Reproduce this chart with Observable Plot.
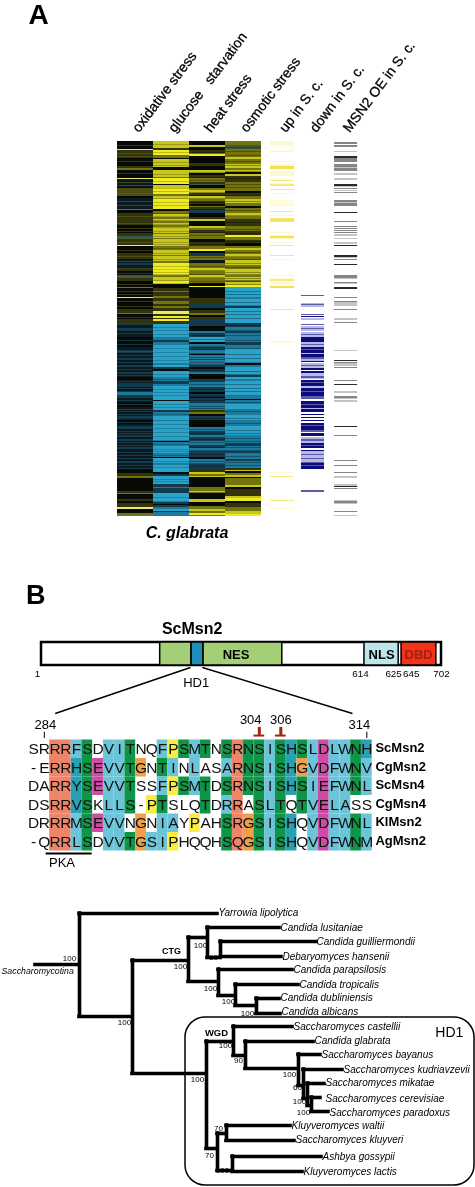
<!DOCTYPE html>
<html>
<head>
<meta charset="utf-8">
<script src="https://cdn.jsdelivr.net/npm/d3@7"></script>
<script src="https://cdn.jsdelivr.net/npm/@observablehq/plot@0.6"></script>
<style>
html,body{margin:0;padding:0;background:#fff;overflow:hidden}
svg{display:block;filter:blur(.35px)}
</style>
</head>
<body>
<div id="root" style="width:475px;height:1187px"></div>
<script>
// ---------- Panel A: expression heat map (run starts in rows, top = 0, 375 rows) ----------
const heatLabels = ["oxidative stress","glucose\u00a0\u00a0\u00a0starvation","heat stress","osmotic stress"];
const sideLabels = ["up in S. c.","down in S. c.","MSN2 OE in S. c."];
const oxidative = "0K 8L 9D 17K 25D 27O 29K 37L 38N 46K 47E 55K 57N 68O 69K 72D 78T 79D 84K 92D 95G 98D 104L 105K 112D 118N 122T 124N 128D 130K 134G 137D 140K 146O 147K 156L 157K 168D 172O 173K 178D 182T 184N 188T 190N 196K 206N 209T 212N 217T 219N 224T 226N 231T 233N 236K 239N 242T 246N 250T 251M 254T 257N 261K 266N 270T 271N 275T 278N 279K 283N 286T 288N 294T 296N 298T 300N 306T 308N 320T 322N 328K 332D 335O 337K 350D 352O 353K 358D 360K 362D 366L 368K 372O";
const glucose = "0Y 7D 9H 14O 17K 18Y 26K 29Y 36O 37H 43K 44Y 47H 53O 55Y 58H 68K 70O 73Y 76O 78Y 80O 82Y 84O 86Y 92O 93Y 97O 98Y 105O 109Y 114O 115Y 120O 122H 128Y 129H 134O 136Y 140H 143K 147D 150O 151D 155O 157D 160O 163D 165O 167D 170L 173D 175H 177D 178H 180D 183B 196M 199T 201M 204B 222M 224B 226T 228K 230B 236M 240T 243M 245B 259K 260B 269T 271M 275B 279M 280B 299M 300K 301M 305B 312M 316K 317B 322M 324B 331K 333T 335B 343T 346M 347T 352B 360M 361T 363K 364T 366M 368B 370T 371M";
const heat = "0K 4Y 6K 9D 12O 13H 15K 22D 25K 29Y 32K 34D 37O 41D 43G 44K 47O 49Y 52D 55Y 58O 60D 63K 65O 66D 69T 72K 76D 78Y 80K 85Y 87O 89D 92O 98K 101D 105O 108H 110K 112T 115O 119N 122O 127Y 130O 134Y 137O 142K 145H 146K 157D 162T 167K 169D 172O 174K 176D 179T 185K 190M 192T 196B 201K 203M 206T 209M 213K 214M 218T 219M 224T 226K 228T 231M 233K 238T 241M 246T 251K 253T 256K 257T 262M 269D 271O 273K 275T 279K 286M 290T 294M 296T 300M 304T 307M 310T 316K 318M 323T 328D 331Y 333O 335Y 336K 346O 350Y 351O 352K 358Y 361K 365O 368Y 370O 372H 374O";
const osmotic = "0O 4G 8O 16Y 18O 23Y 27O 29Y 31K 33Y 35D 41O 50K 52D 55O 58Y 62O 65K 67O 72Y 75O 78D 85O 90D 94H 96O 99D 102K 105O 107Y 109O 113Y 116O 119Y 124O 128Y 134O 136Y 139O 141Y 144H 146B 156M 158B 164M 165T 167B 182T 186M 190T 192M 201T 204M 208B 222K 224M 226B 234T 236B 238M 240B 255M 258K 259M 263B 268M 274B 279M 285B 294M 302T 305M 310T 312M 318T 320M 327D 329Y 330K 332O 334Y 336K 337O 344Y 346K 348D 355Y 357H 360K 362D 366O 370Y 373H";
const upInSc = "0a 5_ 6a 7_ 9a 11_ 20a 21_ 23a 25e 28_ 30a 35_ 39c 40_ 42a 43c 45_ 48c 49_ 52a 53_ 59a 60_ 61a 62_ 63a 65_ 70c 71_ 74a 75_ 77c 78e 80c 81_ 91a 92_ 94a 95e 97a 98_ 101a 102_ 104c 105_ 114c 115_ 118a 119_ 134a 135_ 137a 138c 140a 143_ 145e 147_ 168c 169_ 200a 202_ 331a 332_ 335c 336_ 359c 360_ 367a 368_";
const downInSc = "0_ 154m 155_ 162l 163m 164l 166_ 173m 174_ 175d 176_ 177l 179_ 183m 184_ 185l 187m 188l 190_ 191l 193m 194l 196d 201l 203m 204l 206d 208m 209d 212l 213d 216m 218l 220d 221_ 222l 224m 225l 227d 229_ 230d 232l 235m 237l 238_ 239d 241m 242d 245l 247d 250m 251d 255m 258_ 260d 263m 264d 267l 268d 271_ 273d 274_ 276d 277_ 279d 280_ 282d 284m 285d 289m 291_ 292d 295_ 296l 298m 300l 302d 304m 305d 307_ 309d 310l 313m 314l 317m 318l 321m 322d 324m 325d 328_ 349m 351_";
const msn2OE = "1q 3_ 4q 6_ 10p 11_ 15s 17q 21_ 23q 26p 27q 30_ 32p 34_ 37p 39_ 43s 45p 46_ 47q 48_ 49p 50_ 51q 52_ 59q 61p 62q 65_ 71s 72_ 80q 81_ 85q 86_ 87q 88_ 89q 90_ 91q 92_ 93p 95_ 97p 98_ 101p 103_ 104s 105_ 114s 116p 117_ 118q 119_ 123s 124_ 134q 137p 138_ 141q 142p 143_ 146s 148_ 156q 157_ 160q 161p 165_ 168q 169_ 177p 179_ 181q 182_ 209p 210_ 219s 220_ 221q 222p 225_ 226q 227_ 239q 240_ 243s 244_ 250p 252_ 255q 257p 258_ 259p 261_ 285s 286_ 294q 295_ 319q 320_ 324q 325_ 331q 332_ 335p 337_ 343p 345s 346_ 347q 348_ 359p 360q 362p 363_ 370q 371_ 374p 375_";
const levelColors = {K:"#070a06",N:"#0a1a20",T:"#123c4e",M:"#1c7a9c",B:"#2aa3cb",D:"#33330c",E:"#4e4e12",O:"#74740f",Y:"#c6c61c",H:"#eeec1e",L:"#e9e86a",G:"#3c5a42",
  a:"#fdf9d2",c:"#f8e97f",e:"#f7e050",d:"#0c0c7a",m:"#5b5ba8",l:"#b8b8e6",p:"#c4c4c4",q:"#858585",s:"#2a2a2a"};
const heatColumns = [oxidative,glucose,heat,osmotic];
const sideColumns = [[upInSc,4.25,4.92],[downInSc,5.11,5.75],[msn2OE,6.03,6.67]];
// thin rows seen inside the bands of each heat-map column
const oxidativeOlive = [4,12,15,20,32,41,44,52,60,64,75,82,87,90,101,109,115,120,127,132,143,150,153,160,165,176];
const oxidativeTeal = [187,192,199,203,210,214,221,228,234,240,247,259,263,268,273,281,285,290,292,301,304,311,314,317,324,327];
const glucoseDark = [3,11,21,24,33,40,47,50,57,61,64,72,75,79,83,86,90,95,101,103,107,112,118,125,131,133,139,142,186,189,193,207,211,215,219,233,238,248,251,254,263,266,273,283,287,291,295,303,308,310,314,320,326,338,340,356];
const heatDark = [2,7,11,18,20,31,36,39,46,51,54,57,61,68,74,83,91,94,103,111,116,121,125,129,133,136,140,194,198,205,208,212,216,221,223,229,235,243,248,255,259,265,267,277,283,288,292,298,301,306,309,313,320,322,325];
const osmoticDark = [6,10,14,20,24,30,37,43,46,54,60,69,74,81,88,92,100,103,111,115,118,122,126,131,133,137,140,143,150,153,161,170,173,177,184,189,194,199,207,213,217,221,230,233,243,247,250,254,261,270,277,282,289,292,297,300,306,309,315,321,324];

// ---------- Panel B: domain map (residue numbers) ----------
const domainNames = ["","HD1-flank","HD1","NES","NLS","DBD"];
const domainStart = [1,209,264,285,567,632];
const domainEnd = [702,264,285,423,627,693];
const domainFill = ["#ffffff","#a5cf76","#1f8fb8","#a5cf76","#bde6ec","#f2331a"];
const domainTicks = ["1","614","625","645","702"];
const domainTickAt = [-6,560,618,649,702];

// ---------- Panel B: alignment ----------
const seqNames = ["ScMsn2","CgMsn2","ScMsn4","CgMsn4","KlMsn2","AgMsn2"];
const sequences = [
  "SRRRFSDVITNQFPSMTNSRNSISHSLDLWNH",
  "-ERRHSEVVTGNTINLASARNSISHGVDFWNV",
  "DARRYSEVVTSSFPSMTDSRNSISHSIEFWNL",
  "DSRRVSKLLS-PTSLQTDRRASLTQTVELASS",
  "DRRRMSEVVNGNIAYPAHSRGSISHQVDFWNL",
  "-QRRLSDVVTGSIPHQQHSQGSISHQVDFWNM"];
const shadeRows = [
  "..rrbg.bbg..bygbg.grggbgtgbmbbgt",
  "..rrtgmbbgo.gb.b..brggbgtobmbbgb",
  "..rrtgmbbg..bygbg.grggbgtgbmbbgb",
  "..rrtg.bbg.yg...g.br.gbg.gbmbb..",
  "..rrbgmbb.o.bb.y..grogbgt.bmbbgb",
  "..rrbg.bbgobby....grogbgt.bmbbgb"];
const shadeColors = {r:"#f08468",b:"#6cc4d9",g:"#0e9648",t:"#2aa1b3",m:"#cf4ba5",o:"#f0a048",y:"#f9ee3e"};
const boldCols = [21,23,30];
const residueLabels = ["284","304","306","314"];
const residueCols = [1.6,20.7,23.5,30.8];
const residueRows = [-0.81,-1.1,-1.1,-0.81];
const arrowCols = [21.5,23.5];
const tickCols = [1.5,31.5];

// ---------- Panel B: phylogeny (depth and row units) ----------
const hBranches = [[0,44,74],[44,182,23],[44,97,126],[97,153,70],[153,172,47],[172,244,37],[172,185,67],[185,281,51],[185,246,66],[153,183,91],[183,257,79],[183,200,105],[200,263,94],[200,221,115],[221,244,108],[221,245,123],
  [97,171,183],[171,198,151],[198,257,136],[198,210,165],[210,278,151],[210,263,178],[263,285,164],[263,268,195],[268,307,179],[268,272,208],[272,289,193],[272,276,215],[276,285,207],[276,293,221],
  [171,182,258],[182,191,243],[191,255,235],[191,259,250],[182,197,280],[197,286,266],[197,267,281]];
const vBranches = [[44,23,126],[97,70,183],[153,47,91],[172,37,67],[185,51,66],[183,79,105],[200,94,115],[221,108,123],[171,151,258],[198,136,165],[210,151,178],[263,164,195],[268,179,208],[272,193,215],[276,207,221],[182,243,280],[191,235,250],[197,266,281]];
const leafNames = ["Yarrowia lipolytica","Candida lusitaniae","Candida guilliermondii","Debaryomyces hansenii","Candida parapsilosis","Candida tropicalis","Candida dubliniensis","Candida albicans","Saccharomyces castellii","Candida glabrata","Saccharomyces bayanus","Saccharomyces kudriavzevii","Saccharomyces mikatae","Saccharomyces cerevisiae","Saccharomyces paradoxus","Kluyveromyces waltii","Saccharomyces kluyveri","Ashbya gossypii","Kluyveromyces lactis"];
const leafDepth = [183,245,281,247,258,264,245,246,258,279,286,308,290,290,294,256,260,287,268];
const leafRow = [22,37,51,66,79,94,107,121,136,150,164,179,192,208,222,235,249,266,281];
const supportText = ["100","100","100","100","60","100","100","100","100","90","100","100","60","100","100","70","70","100"];
const supportDepth = [34,145,89,165,178,175,193,212,190,203,162,254,262,264,268,183,174,187];
const supportRow = [68,76,132,55,67,98,111,123,155,170,189,184,197,211,222,238,265,280];

// ---------- helpers ----------
const font = "'Liberation Sans', Arial, sans-serif";
const parseRuns = s => {
  const parts = s.trim().split(/\s+/).map(p => ({start:+p.slice(0,-1), code:p.slice(-1)}));
  return parts.map((p,i) => ({...p, end: i+1<parts.length ? parts[i+1].start : 375})).filter(p => p.code !== "_");
};
const heatCells = heatColumns.flatMap((s,c) => parseRuns(s).map(r => ({...r, c1:c, c2:c+1})));
const sideCells = sideColumns.flatMap(([s,a,b]) => parseRuns(s).map(r => ({...r, c1:a, c2:b})));
const thinRows = (rows,c,fill,fillOpacity) => Plot.rect(rows,{x1:c,x2:c+1,y1:d=>d,y2:d=>d+1,fill,fillOpacity});
const txt = (data, o) => Plot.text(data, {fontFamily:font, fill:"#000", ...o});

// ---------- Plot 1: panel A ----------
const labelRows = heatLabels.map((t,i)=>({t,c:i+0.5})).concat(sideLabels.map((t,i)=>({t,c:[4.58,5.43,6.35][i]})));
const plotA = Plot.plot({width:475,height:570,margin:0,
  x:{domain:[0,9],range:[117,441],axis:null},
  y:{domain:[-141,429],range:[0,570],axis:null},
  color:{type:"identity"},
  style:{fontFamily:font,background:"#fff"},
  marks:[
    Plot.rect(heatCells,{x1:"c1",x2:"c2",y1:"start",y2:"end",fill:d=>levelColors[d.code]}),
    thinRows(oxidativeOlive,0,"#74740f",0.45),
    thinRows(oxidativeTeal,0,"#1c6a82",0.45),
    thinRows(glucoseDark,1,"#000",0.2),
    thinRows(heatDark,2,"#000",0.3),
    thinRows(osmoticDark,3,"#000",0.3),
    Plot.rect(sideCells,{x1:"c1",x2:"c2",y1:"start",y2:"end",fill:d=>levelColors[d.code]}),
    txt(labelRows,{x:"c",y:-11,text:"t",rotate:-53,textAnchor:"start",fontSize:14,stroke:"#000",strokeWidth:0.3}),
    txt(["A"],{x:-2.19,y:-126,text:d=>d,fontSize:28,fontWeight:"bold"}),
    txt(["C. glabrata"],{x:1.93,y:391,text:d=>d,fontSize:16,fontWeight:"bold",fontStyle:"italic"})
  ]});

// ---------- Plot 2: domain map ----------
const domainRows = domainNames.map((n,i)=>({n,s:domainStart[i],e:domainEnd[i],f:domainFill[i]}));
const domainCentres = [["NES",342,"#000"],["NLS",597,"#000"],["DBD",662,"#a3200c"]];
const plotD = Plot.plot({width:475,height:145,margin:0,
  x:{domain:[1,702],range:[41,441],axis:null},
  y:{domain:[0,145],range:[0,145],axis:null},
  color:{type:"identity"},
  style:{fontFamily:font,background:"#fff"},
  marks:[
    Plot.rect(domainRows,{x1:"s",x2:"e",y1:72,y2:95,fill:"f",stroke:"#000",strokeWidth:d=>d.n===""?2.5:1.5}),
    txt(domainCentres,{x:d=>d[1],y:84,text:d=>d[0],fill:d=>d[2],fontSize:13,fontWeight:"bold"}),
    txt(["B"],{x:-9,y:25,text:d=>d,fontSize:27,fontWeight:"bold"}),
    txt(["ScMsn2"],{x:265,y:58,text:d=>d,fontSize:16,fontWeight:"bold"}),
    txt(["HD1"],{x:272,y:112,text:d=>d,fontSize:13}),
    txt(domainTicks,{x:(d,i)=>domainTickAt[i],y:103,text:d=>d,fontSize:9.8}),
    Plot.link([[262,25],[283,546]],{x1:d=>d[0],y1:97,x2:d=>d[1],y2:143,stroke:"#000",strokeWidth:1.5})
  ]});

// ---------- Plot 3: alignment (its SVG overlaps the one above by 10px, with no background) ----------
const alignCells = sequences.flatMap((s,r)=>[...s].map((ch,c)=>({ch,c,r,code:shadeRows[r][c]||"."})));
const plotS = Plot.plot({width:475,height:165,margin:0,
  x:{domain:[0,32],range:[27.7,371.7],axis:null},
  y:{domain:[0,6],range:[34.5,145.5],axis:null},
  color:{type:"identity"},
  style:{fontFamily:font,background:"transparent",marginTop:"-10px",position:"relative"},
  marks:[
    Plot.rect(alignCells.filter(d=>d.code!=="."),{x1:"c",x2:d=>d.c+1,y1:"r",y2:d=>d.r+1,fill:d=>shadeColors[d.code]}),
    txt(alignCells,{x:d=>d.c+0.5,y:d=>d.r+0.5,text:"ch",fontSize:15.5,fill:"#111",fontWeight:d=>(d.ch==="W"||boldCols.includes(d.c))?"bold":"normal"}),
    txt(seqNames,{x:32.3,y:(d,i)=>i+0.45,text:d=>d,textAnchor:"start",fontSize:13,fontWeight:"bold"}),
    txt(residueLabels,{x:(d,i)=>residueCols[i],y:(d,i)=>residueRows[i],text:d=>d,fontSize:13}),
    Plot.ruleX(tickCols,{x:d=>d,y1:-0.42,y2:-0.08,stroke:"#000",strokeWidth:1}),
    Plot.ruleX(arrowCols,{x:d=>d,y1:-0.68,y2:-0.24,stroke:"#a0280f",strokeWidth:3}),
    Plot.ruleY(arrowCols,{y:-0.24,x1:d=>d-0.5,x2:d=>d+0.5,stroke:"#a0280f",strokeWidth:2}),
    Plot.ruleY([6.135],{x1:1.67,x2:5.95,stroke:"#000",strokeWidth:2}),
    txt(["PKA"],{x:3.14,y:6.62,text:d=>d,fontSize:13})
  ]});

// ---------- Plot 4: phylogeny ----------
const plotT = Plot.plot({width:475,height:317,margin:0,
  x:{domain:[0,440],range:[35,475],axis:null},
  y:{domain:[-20,297],range:[0,317],axis:null},
  color:{type:"identity"},
  style:{fontFamily:font,background:"#fff"},
  marks:[
    Plot.rect([0],{x1:150,x2:439,y1:127,y2:295,rx:20,fill:"none",stroke:"#000",strokeWidth:1.5}),
    Plot.ruleY(hBranches,{y:d=>d[2],x1:d=>d[0],x2:d=>d[1],stroke:"#000",strokeWidth:3.6,strokeLinecap:"square"}),
    Plot.ruleX(vBranches,{x:d=>d[0],y1:d=>d[1],y2:d=>d[2],stroke:"#000",strokeWidth:3.6,strokeLinecap:"square"}),
    txt(leafNames,{x:(d,i)=>leafDepth[i],y:(d,i)=>leafRow[i],text:d=>d,textAnchor:"start",fontSize:10,fontStyle:"italic"}),
    txt(supportText,{x:(d,i)=>supportDepth[i],y:(d,i)=>supportRow[i],text:d=>d,fontSize:8}),
    txt(["Saccharomycotina"],{x:-34,y:81,text:d=>d,textAnchor:"start",fontSize:8.8,fontStyle:"italic"}),
    txt(["CTG"],{x:136,y:61,text:d=>d,fontSize:9,fontWeight:"bold"}),
    txt(["WGD"],{x:181,y:142,text:d=>d,fontSize:9.5,fontWeight:"bold"}),
    txt(["HD1"],{x:413.8,y:142,text:d=>d,fontSize:14})
  ]});

const root = document.getElementById("root");
[plotA,plotD,plotS,plotT].forEach(p => root.appendChild(p));
</script>
</body>
</html>
